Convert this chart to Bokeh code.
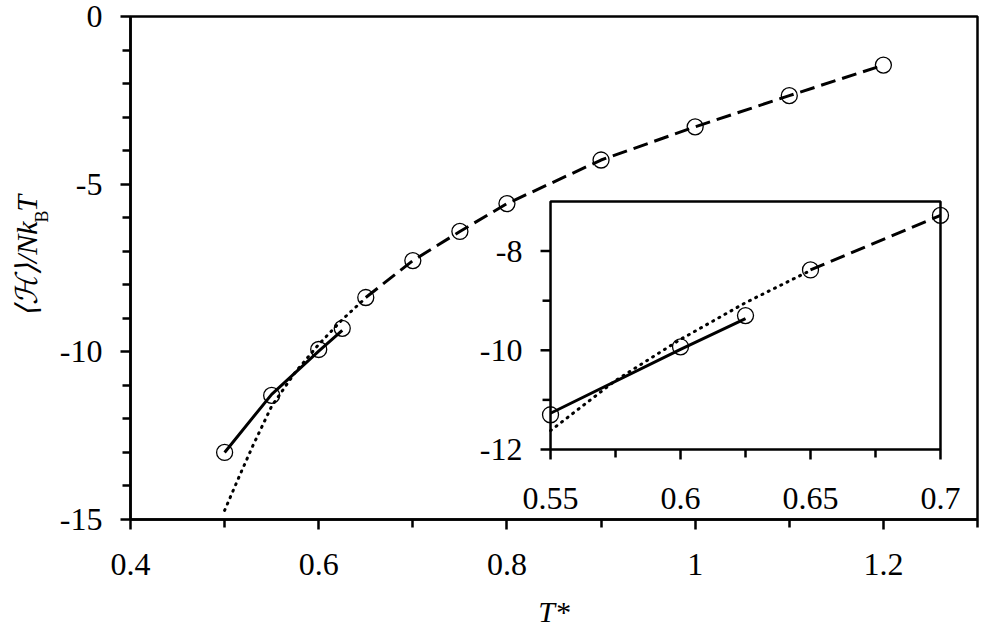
import math
from bokeh.plotting import figure
from bokeh.models import FixedTicker, Range1d
from bokeh.layouts import row
from bokeh.embed import file_html
from bokeh.resources import INLINE
from bokeh.core.properties import value

# ---- data ----
T_pts = [0.5, 0.55, 0.6, 0.625, 0.65, 0.7, 0.75, 0.8, 0.9, 1.0, 1.1, 1.2]
H_pts = [-13.0, -11.30, -9.93, -9.30, -8.38, -7.28, -6.41, -5.58, -4.28, -3.29, -2.36, -1.45]

solid_T = [0.5, 0.55, 0.6, 0.625]
solid_H = [-13.0, -11.27, -9.98, -9.36]

dot_T = [0.5, 0.515, 0.53, 0.55, 0.575, 0.6, 0.625, 0.65]
dot_H = [-14.73, -13.75, -12.8, -11.62, -10.61, -9.78, -9.04, -8.39]

dash_T = [0.65, 0.7, 0.75, 0.8, 0.9, 1.0, 1.1, 1.2]
dash_H = [-8.38, -7.28, -6.41, -5.58, -4.28, -3.29, -2.36, -1.45]

main_xrange = (0.4, 1.3)
main_yrange = (-15, 0)
main_xticks = [0.4, 0.6, 0.8, 1.0, 1.2]
main_xlabels = ["0.4", "0.6", "0.8", "1", "1.2"]
main_xminor = [0.5, 0.7, 0.9, 1.1, 1.3]
main_yticks = [0, -5, -10, -15]
main_ylabels = ["0", "-5", "-10", "-15"]
main_yminor = [-1, -2, -3, -4, -6, -7, -8, -9, -11, -12, -13, -14]

inset_xrange = (0.55, 0.7)
inset_yrange = (-12, -7)
inset_xticks = [0.55, 0.6, 0.65, 0.7]
inset_xlabels = ["0.55", "0.6", "0.65", "0.7"]
inset_xminor = [0.575, 0.625, 0.675]
inset_yticks = [-12, -10, -8]
inset_ylabels = ["-12", "-10", "-8"]
inset_yminor = [-11, -9]

FONT = "Liberation Serif"
INK = "black"
TICK_FS = "32px"

# inset box placement, as fractions of the main frame (left, right, bottom, top)
INSET_BOX = (0.4959, 0.9563, 0.1392, 0.6322)


def style_axis(ax):
    ax.axis_line_color = INK
    ax.axis_line_width = 2.5
    ax.major_tick_line_color = INK
    ax.minor_tick_line_color = INK
    ax.major_tick_line_width = 2.5
    ax.minor_tick_line_width = 2.5
    ax.major_tick_in = 0
    ax.major_tick_out = 10
    ax.minor_tick_in = 0
    ax.minor_tick_out = 8
    ax.major_label_text_font = FONT
    ax.major_label_text_font_size = TICK_FS
    ax.major_label_text_color = INK


def draw_series(fig, lo=None, hi=None, **rng):
    def keep(xs, ys):
        if lo is None:
            return list(xs), list(ys)
        pairs = [(x, y) for x, y in zip(xs, ys) if lo - 1e-9 <= x <= hi + 1e-9]
        return [a for a, _ in pairs], [b for _, b in pairs]

    x, y = keep(dot_T, dot_H)
    fig.line(x, y, line_color=INK, line_width=3, line_dash="1 6", line_cap="round", **rng)
    x, y = keep(dash_T, dash_H)
    fig.line(x, y, line_color=INK, line_width=3, line_dash="15 7", **rng)
    x, y = keep(solid_T, solid_H)
    fig.line(x, y, line_color=INK, line_width=3, **rng)
    x, y = keep(T_pts, H_pts)
    fig.scatter(x, y, marker="circle", size=16, fill_color=None,
                line_color=INK, line_width=1.3, **rng)


# ---- main figure ----
p = figure(width=936, height=632, x_range=Range1d(*main_xrange), y_range=Range1d(*main_yrange),
           output_backend="svg", toolbar_location=None, title_location=None,
           min_border_left=74, min_border_right=15, min_border_top=16, min_border_bottom=113,
           background_fill_color="white", border_fill_color="white")
p.outline_line_color = INK
p.outline_line_width = 2.5
p.outline_line_alpha = 1.0
p.xgrid.visible = False
p.ygrid.visible = False

p.xaxis.ticker = FixedTicker(ticks=main_xticks, minor_ticks=main_xminor)
p.yaxis.ticker = FixedTicker(ticks=main_yticks, minor_ticks=main_yminor)
p.xaxis.major_label_overrides = dict(zip(main_xticks, main_xlabels))
p.yaxis.major_label_overrides = dict(zip(main_yticks, main_ylabels))
style_axis(p.xaxis[0])
style_axis(p.yaxis[0])
p.xaxis.major_label_standoff = 24
p.yaxis.major_label_standoff = 18

p.xaxis.axis_label = "T*"
p.xaxis.axis_label_text_font = FONT
p.xaxis.axis_label_text_font_style = "italic"
p.xaxis.axis_label_text_font_size = "30px"
p.xaxis.axis_label_text_color = INK
p.xaxis.axis_label_standoff = 17

draw_series(p)

# ---- inset, drawn inside the main frame on its own ranges ----
lf, rf, bf, tf = INSET_BOX
xspan = (inset_xrange[1] - inset_xrange[0]) / (rf - lf)
ix0 = inset_xrange[0] - lf * xspan
yspan = (inset_yrange[1] - inset_yrange[0]) / (tf - bf)
iy0 = inset_yrange[0] - bf * yspan
p.extra_x_ranges = {"ix": Range1d(ix0, ix0 + xspan)}
p.extra_y_ranges = {"iy": Range1d(iy0, iy0 + yspan)}
IR = dict(x_range_name="ix", y_range_name="iy")

p.quad(left=[inset_xrange[0]], right=[inset_xrange[1]],
       bottom=[inset_yrange[0]], top=[inset_yrange[1]],
       fill_color="white", line_color=INK, line_width=2.5, **IR)
draw_series(p, inset_xrange[0], inset_xrange[1], **IR)

# inset ticks (outward)
p.ray(x=inset_xticks, y=[inset_yrange[0]] * len(inset_xticks), length=10, length_units="screen",
      angle=-math.pi / 2, line_color=INK, line_width=2.5, **IR)
p.ray(x=inset_xminor, y=[inset_yrange[0]] * len(inset_xminor), length=8, length_units="screen",
      angle=-math.pi / 2, line_color=INK, line_width=2.5, **IR)
p.ray(x=[inset_xrange[0]] * len(inset_yticks), y=inset_yticks, length=10, length_units="screen",
      angle=math.pi, line_color=INK, line_width=2.5, **IR)
p.ray(x=[inset_xrange[0]] * len(inset_yminor), y=inset_yminor, length=8, length_units="screen",
      angle=math.pi, line_color=INK, line_width=2.5, **IR)
# inset tick labels
p.text(x=inset_xticks, y=[inset_yrange[0]] * len(inset_xticks), text=inset_xlabels,
       text_align="center", text_baseline="top", y_offset=39,
       text_font=value(FONT), text_font_size=TICK_FS, text_color=INK, **IR)
p.text(x=[inset_xrange[0]] * len(inset_yticks), y=inset_yticks, text=inset_ylabels,
       text_align="right", text_baseline="middle", x_offset=-28,
       text_font=value(FONT), text_font_size=TICK_FS, text_color=INK, **IR)

# ---- y-axis title strip (x range in pixels of the strip) ----
py = figure(width=56, height=632, x_range=Range1d(0, 56), y_range=p.y_range,
            output_backend="svg", toolbar_location=None, title_location=None,
            x_axis_location=None, y_axis_location=None,
            min_border_left=0, min_border_right=0, min_border_top=16, min_border_bottom=113,
            background_fill_color="white", border_fill_color="white")
py.outline_line_color = None
py.xgrid.visible = False
py.ygrid.visible = False
py.text(x=[25.5], y=[-6.11], text=["⟨ℋ⟩/Nk"], angle=math.pi / 2,
        text_align="right", text_baseline="alphabetic", text_font=value(FONT),
        text_font_style="italic", text_font_size="30px", text_color=INK)
py.text(x=[41.5], y=[-6.14], text=["B"], angle=math.pi / 2,
        text_align="left", text_baseline="alphabetic", text_font=value(FONT),
        text_font_size="18px", text_color=INK)
py.text(x=[25.5], y=[-5.82], text=["T"], angle=math.pi / 2,
        text_align="left", text_baseline="alphabetic", text_font=value(FONT),
        text_font_style="italic", text_font_size="30px", text_color=INK)

layout = row(py, p)
open("out.html", "w").write(file_html(layout, INLINE))
